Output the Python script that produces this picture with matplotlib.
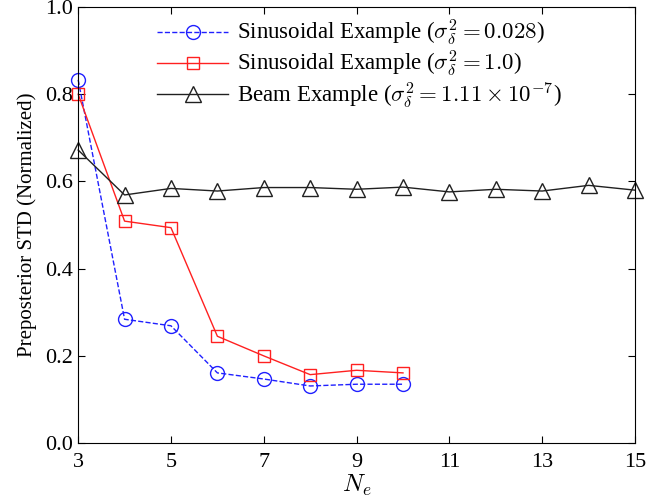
import matplotlib.pyplot as plt
import numpy as np

# Dados
ne_sin = [3, 4, 5, 6, 7, 8, 9, 10]
std_sin_0028 = [0.833, 0.284, 0.269, 0.161, 0.147, 0.131, 0.135, 0.135]
std_sin_10 = [0.800, 0.509, 0.494, 0.245, 0.200, 0.157, 0.167, 0.161]

ne_beam = [3, 4, 5, 6, 7, 8, 9, 10, 11, 12, 13, 14, 15]
std_beam = [0.672, 0.569, 0.584, 0.578, 0.586, 0.586, 0.582, 0.587, 0.576, 0.582, 0.578, 0.591, 0.580]

x_ticks = [3, 5, 7, 9, 11, 13, 15]
y_ticks = [0.0, 0.2, 0.4, 0.6, 0.8, 1.0]

plt.rcParams["font.family"] = ["Liberation Serif"]
plt.rcParams["mathtext.fontset"] = "cm"

tam_font = 16

fig = plt.figure(figsize=(6.46, 4.99), dpi=100)
ax = fig.add_axes([0.121, 0.112, 0.862, 0.874])

ax.plot(ne_sin, std_sin_0028, linestyle="--", color="#2020ff", marker="o",
        markersize=10, markerfacecolor="none", linewidth=1.0, clip_on=False,
        label=r"Sinusoidal Example ($\sigma_\delta^2 = 0.028$)")
ax.plot(ne_sin, std_sin_10, linestyle="-", color="#ff2020", marker="s",
        markersize=9, markerfacecolor="none", linewidth=1.0, clip_on=False,
        label=r"Sinusoidal Example ($\sigma_\delta^2 = 1.0$)")
ax.plot(ne_beam, std_beam, linestyle="-", color="#202020", marker="^",
        markersize=11, markerfacecolor="none", linewidth=1.0, clip_on=False,
        label=r"Beam Example ($\sigma_\delta^2 = 1.11 \times 10^{-7}$)")

ax.set_xlim(3, 15)
ax.set_ylim(0, 1.0)
ax.set_xticks(x_ticks)
ax.set_yticks(y_ticks)
ax.set_yticklabels([f"{v:.1f}" for v in y_ticks])
ax.tick_params(direction="in", top=True, right=True, labelsize=tam_font, length=5)
ax.tick_params(axis="x", pad=7)
for s in ax.spines.values():
    s.set_linewidth(0.8)

ax.set_xlabel(r"$N_e$", fontsize=tam_font + 2, labelpad=1)
ax.set_ylabel("Preposterior STD (Normalized)", fontsize=tam_font - 1, labelpad=6)

ax.legend(loc="upper left", bbox_to_anchor=(0.142, 0.975), frameon=False,
          fontsize=tam_font + 0.5, handlelength=3.1, handletextpad=0.4,
          labelspacing=0.05, borderpad=0, borderaxespad=0)

plt.savefig("out.png", dpi=100)
